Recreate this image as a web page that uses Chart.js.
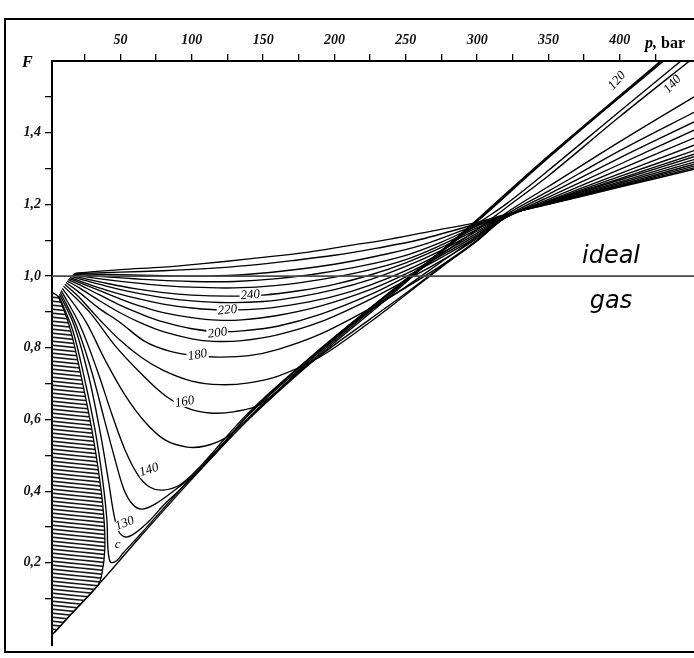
<!DOCTYPE html>
<html>
<head>
<meta charset="utf-8">
<script src="https://cdn.jsdelivr.net/npm/chart.js@4.4.1/dist/chart.umd.min.js"></script>
<style>
  html, body { margin: 0; padding: 0; background: #fff; }
  #wrap { width: 694px; height: 658px; }
</style>
</head>
<body>
<div id="wrap"><canvas id="fChart" width="694" height="658"></canvas></div>
<script>
// [p in bar, F] pairs, one list per isotherm (deg C)
const t120 = [[3.5,0.005],[15,0.055],[34.3,0.138],[63.7,0.272],[98.8,0.428],[140.8,0.604],[189.9,0.78],[239,0.944],[274,1.067],[302,1.165],[344,1.315],[386,1.457],[430,1.605],[452,1.684]];
const tCrit = [[6.8,0.945],[16.5,0.849],[25,0.71],[32.2,0.57],[37.5,0.431],[40.5,0.319],[41.2,0.24],[43,0.202],[47,0.205],[52,0.228],[64,0.28],[99,0.435],[141,0.61],[190,0.785],[239,0.948],[274,1.066],[302,1.162],[344,1.312],[386,1.454],[430,1.602],[452,1.68]];
const t130 = [[7.2,0.95],[17.5,0.863],[27.5,0.724],[35.5,0.57],[41.5,0.431],[45.5,0.333],[49,0.286],[53.9,0.272],[60.2,0.283],[70.7,0.319],[80,0.36],[91.8,0.405],[120,0.52],[141,0.62],[190,0.795],[239,0.956],[274,1.068],[300,1.152],[344,1.309],[386,1.452],[430,1.598],[452,1.676]];
const t135 = [[7.8,0.955],[19,0.863],[29.5,0.738],[38.8,0.598],[46.2,0.488],[52.5,0.404],[58.8,0.362],[65.1,0.35],[74.2,0.364],[88.3,0.404],[105,0.458],[141,0.617],[190,0.79],[239,0.952],[274,1.064],[300,1.145],[320,1.2],[350,1.295],[400,1.46],[452,1.63]];
const t140 = [[8.4,0.96],[21.6,0.863],[33.6,0.738],[44.1,0.613],[53.2,0.515],[62.3,0.445],[70.7,0.411],[79.8,0.403],[91.8,0.418],[105,0.465],[141,0.624],[190,0.797],[239,0.955],[274,1.058],[300,1.13],[320,1.19],[350,1.28],[400,1.445],[452,1.61]];
const t150 = [[9.2,0.966],[25.1,0.877],[39.2,0.766],[53.2,0.668],[67.2,0.593],[81.2,0.543],[96.7,0.523],[109.3,0.526],[123.3,0.548],[137.4,0.594],[160,0.678],[190,0.792],[220,0.89],[250,0.97],[275,1.04],[300,1.11],[320,1.175],[350,1.25],[400,1.375],[452,1.5]];
const t160 = [[10.1,0.972],[28.6,0.898],[46.2,0.806],[63.7,0.731],[81.2,0.667],[97.4,0.631],[112.8,0.618],[130.3,0.622],[147.9,0.642],[175,0.732],[200,0.808],[225,0.88],[250,0.952],[275,1.027],[300,1.1],[320,1.17],[350,1.237],[400,1.35],[452,1.457]];
const t170 = [[11,0.977],[20,0.945],[35,0.88],[50,0.82],[65,0.772],[80,0.737],[100,0.707],[120,0.697],[140,0.702],[160,0.72],[190,0.775],[225,0.872],[250,0.948],[275,1.025],[300,1.098],[320,1.165],[350,1.228],[400,1.33],[452,1.43]];
const t180 = [[11.8,0.982],[20,0.958],[35,0.91],[50,0.87],[67,0.818],[85,0.79],[104,0.777],[120,0.774],[140,0.778],[160,0.795],[190,0.838],[225,0.91],[250,0.968],[275,1.03],[300,1.1],[320,1.163],[350,1.22],[400,1.312],[452,1.407]];
const t190 = [[12.6,0.986],[20,0.97],[35,0.932],[50,0.897],[65,0.868],[80,0.845],[100,0.825],[115,0.818],[135,0.82],[160,0.836],[190,0.872],[225,0.935],[250,0.988],[275,1.043],[300,1.105],[320,1.163],[350,1.214],[400,1.298],[452,1.385]];
const t200 = [[13.3,0.99],[20,0.978],[35,0.948],[50,0.918],[65,0.893],[80,0.872],[100,0.853],[118,0.845],[135,0.847],[160,0.86],[190,0.893],[225,0.948],[250,0.998],[275,1.052],[300,1.11],[320,1.164],[350,1.21],[400,1.286],[452,1.365]];
const t210 = [[14,0.993],[20,0.984],[35,0.96],[50,0.936],[65,0.915],[80,0.898],[100,0.884],[118,0.877],[135,0.878],[160,0.89],[190,0.916],[225,0.962],[250,1.006],[275,1.058],[300,1.115],[320,1.165],[350,1.208],[400,1.278],[452,1.35]];
const t220 = [[14.7,0.996],[25,0.981],[40,0.961],[60,0.939],[80,0.922],[100,0.911],[125,0.905],[150,0.909],[175,0.923],[200,0.944],[225,0.975],[250,1.015],[275,1.064],[300,1.12],[320,1.166],[350,1.207],[400,1.272],[452,1.34]];
const t230 = [[15.3,0.999],[25,0.988],[40,0.972],[60,0.954],[80,0.94],[100,0.931],[125,0.926],[150,0.929],[175,0.942],[200,0.962],[225,0.99],[250,1.027],[275,1.072],[300,1.125],[320,1.167],[350,1.206],[400,1.268],[452,1.333]];
const t240 = [[15.9,1.001],[25,0.993],[40,0.98],[60,0.965],[80,0.954],[100,0.947],[125,0.944],[150,0.947],[175,0.959],[200,0.977],[225,1.003],[250,1.037],[275,1.08],[300,1.13],[320,1.168],[350,1.205],[400,1.263],[452,1.325]];
const t260 = [[16.5,1.003],[40,0.99],[70,0.977],[100,0.969],[130,0.967],[160,0.974],[190,0.99],[220,1.013],[250,1.046],[275,1.087],[300,1.135],[320,1.169],[350,1.204],[400,1.259],[452,1.318]];
const t280 = [[17,1.005],[40,0.998],[70,0.99],[100,0.985],[130,0.985],[160,0.993],[190,1.008],[220,1.029],[250,1.058],[275,1.095],[300,1.14],[320,1.17],[350,1.203],[400,1.255],[452,1.312]];
const t300 = [[17.5,1.006],[50,1.004],[80,1.001],[110,1.0],[140,1.005],[170,1.017],[200,1.033],[230,1.056],[260,1.085],[300,1.143],[320,1.17],[350,1.202],[400,1.252],[452,1.307]];
const t350 = [[18,1.007],[50,1.011],[80,1.015],[110,1.021],[140,1.03],[170,1.043],[200,1.058],[230,1.078],[260,1.102],[300,1.146],[320,1.171],[350,1.201],[400,1.25],[452,1.302]];
const t400 = [[18.5,1.008],[50,1.018],[80,1.025],[106,1.034],[140,1.048],[176,1.064],[210,1.085],[240,1.104],[270,1.127],[300,1.15],[320,1.172],[350,1.2],[400,1.248],[452,1.298]];

const isotherms = [t120, tCrit, t130, t135, t140, t150, t160, t170, t180, t190, t200, t210, t220, t230, t240, t260, t280, t300, t350, t400];

// hatched (two-phase) area outline
const hatchEdge = [[2,0.955],[6.5,0.942],[15,0.849],[23,0.71],[30,0.57],[35.5,0.431],[38.5,0.319],[39,0.236],[37,0.17],[34.3,0.138],[15,0.055],[3.5,0.005],[2,0.0]];
const idealGas = [[2,1],[452,1]];

// curve labels
const labelText = ['240','220','200','180','160','140','130','c','120','140'];
const labelP    = [141, 125, 118, 104, 95, 70, 53, 48, 398, 437];
const labelF    = [0.947, 0.905, 0.841, 0.78, 0.649, 0.459, 0.31, 0.25, 1.545, 1.535];
const labelRot  = [-5, -5, -8, -10, -10, -18, -22, 0, -48, -48];

const pTicks = [25,50,75,100,125,150,175,200,225,250,275,300,325,350,375,400,425];
const fTicks = [0.1,0.2,0.3,0.4,0.5,0.6,0.7,0.8,0.9,1.0,1.1,1.2,1.3,1.4,1.5];

function hatchPattern() {
  const c = document.createElement('canvas');
  c.width = 40; c.height = 4;
  const g = c.getContext('2d');
  g.strokeStyle = '#1a1a1a';
  g.lineWidth = 1.7;
  [-4, 0, 4].forEach(y0 => {
    g.beginPath(); g.moveTo(0, y0); g.lineTo(40, y0 + 4); g.stroke();
  });
  return g.createPattern(c, 'repeat');
}

const toPts = arr => arr.map(([x, y]) => ({x: x, y: y}));

const datasets = [];
datasets.push({
  data: toPts(hatchEdge), borderColor: '#000', borderWidth: 1.3,
  backgroundColor: hatchPattern(), fill: 'shape', tension: 0.3, pointRadius: 0, clip: 0
});
datasets.push({
  data: toPts(idealGas), borderColor: '#4a4a4a', borderWidth: 1.8,
  fill: false, pointRadius: 0, clip: 0
});
isotherms.forEach(a => {
  datasets.push({
    data: toPts(a), borderColor: '#000', borderWidth: 1.35,
    fill: false, tension: 0.35, pointRadius: 0, clip: 0
  });
});

const tickFont = {family: '"Liberation Serif"', size: 14, style: 'italic', weight: 'bold'};

const annotate = {
  id: 'annotate',
  afterDatasetsDraw(chart) {
    const ctx = chart.ctx, xs = chart.scales.x, ys = chart.scales.y;
    ctx.save();
    ctx.font = 'italic 13px "Liberation Serif"';
    ctx.textAlign = 'center';
    ctx.textBaseline = 'middle';
    labelText.forEach((t, i) => {
      const px = xs.getPixelForValue(labelP[i]);
      const py = ys.getPixelForValue(labelF[i]);
      ctx.save();
      ctx.translate(px, py);
      ctx.rotate(labelRot[i] * Math.PI / 180);
      const w = ctx.measureText(t).width;
      ctx.fillStyle = '#fff';
      ctx.fillRect(-w / 2 - 1, -5, w + 2, 10);
      ctx.fillStyle = '#000';
      ctx.fillText(t, 0, 0);
      ctx.restore();
    });
    ctx.restore();
  },
  afterDraw(chart) {
    const ctx = chart.ctx;
    ctx.save();
    // outer frame
    ctx.strokeStyle = '#000';
    ctx.lineWidth = 2;
    ctx.strokeRect(5, 19, 720, 633);
    // axis names
    ctx.fillStyle = '#000';
    ctx.textBaseline = 'alphabetic';
    ctx.textAlign = 'left';
    ctx.font = 'italic bold 16px "Liberation Serif"';
    ctx.fillText('F', 22, 67);
    ctx.fillText('p,', 645, 48);
    const w = ctx.measureText('p, ').width;
    ctx.font = 'bold 16px "Liberation Serif"';
    ctx.fillText('bar', 645 + w, 48);
    // ideal gas caption
    ctx.font = 'italic 24px "DejaVu Sans"';
    ctx.textAlign = 'center';
    ctx.fillText('ideal', 611, 263);
    ctx.fillText('gas', 611, 308);
    ctx.restore();
  }
};

new Chart(document.getElementById('fChart'), {
  type: 'line',
  data: {datasets: datasets},
  options: {
    responsive: false,
    animation: false,
    layout: {padding: {left: 0, right: 0, top: 0, bottom: 12.7}},
    plugins: {legend: {display: false}, tooltip: {enabled: false}},
    scales: {
      x: {
        type: 'linear', position: 'top', min: 2, max: 452,
        afterBuildTicks: s => { s.ticks = pTicks.map(v => ({value: v})); },
        afterFit: s => { s.height = 61; },
        grid: {drawOnChartArea: false, drawTicks: true, tickLength: 7, color: '#000', lineWidth: 1.3},
        border: {display: true, color: '#000', width: 2},
        ticks: {
          color: '#111', font: tickFont, padding: 5, maxRotation: 0, autoSkip: false,
          callback: v => (v % 50 === 0 ? String(v) : '')
        }
      },
      y: {
        type: 'linear', min: -0.03, max: 1.6,
        afterBuildTicks: s => { s.ticks = fTicks.map(v => ({value: v})); },
        afterFit: s => { s.width = 52; },
        grid: {drawOnChartArea: false, drawTicks: true, tickLength: 7, color: '#000', lineWidth: 1.3},
        border: {display: true, color: '#000', width: 2},
        ticks: {
          color: '#111', font: tickFont, padding: 4, autoSkip: false,
          callback: v => {
            const k = Math.round(v * 10);
            return k % 2 === 0 ? (k / 10).toFixed(1).replace('.', ',') : '';
          }
        }
      }
    }
  },
  plugins: [annotate]
});
</script>
</body>
</html>
